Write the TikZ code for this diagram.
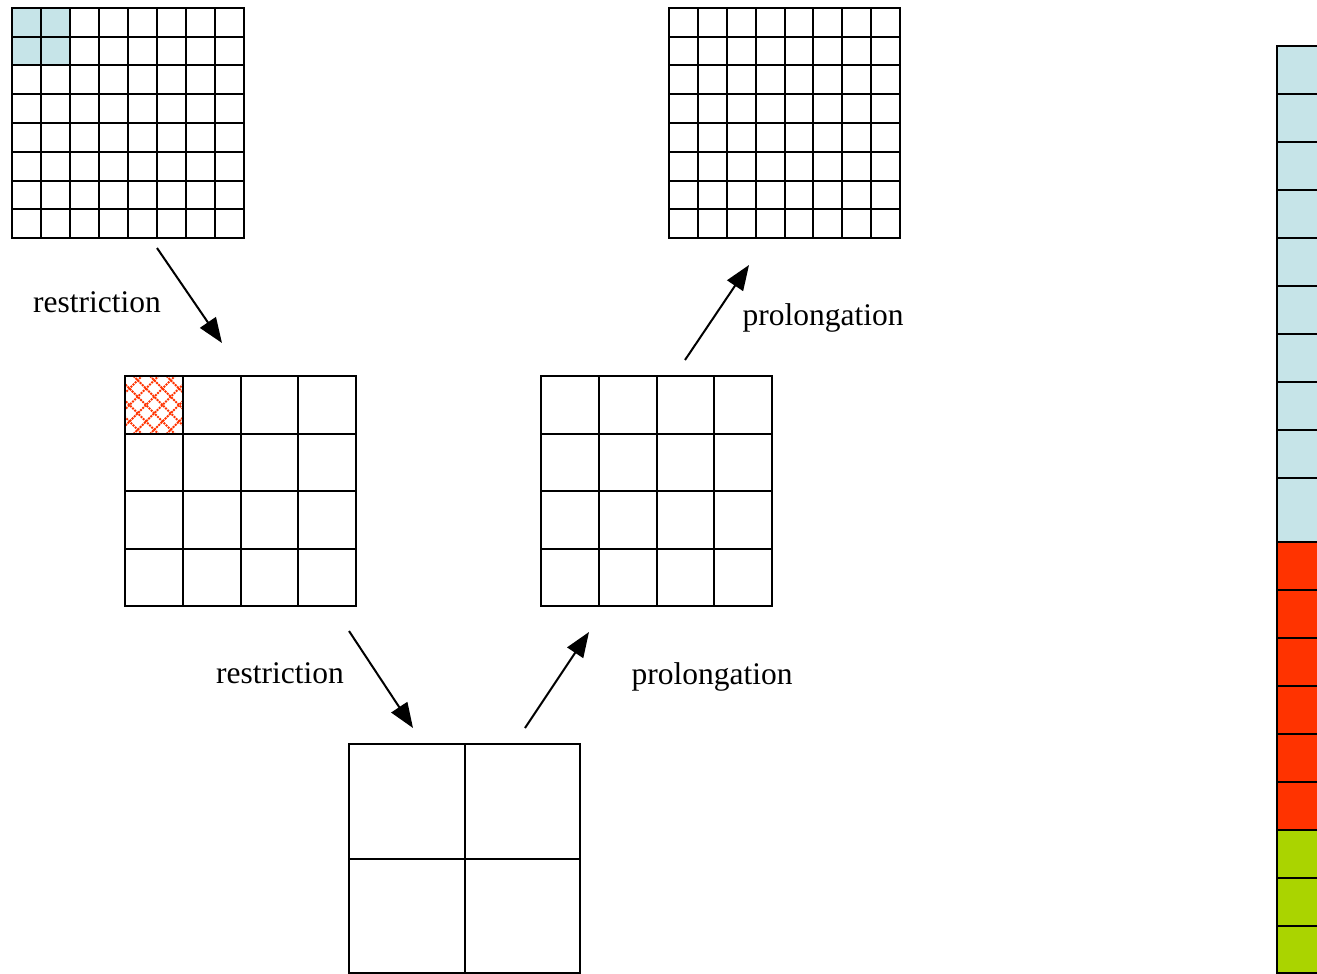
\documentclass[tikz,border=0pt]{standalone}
\usepackage{fontspec}
\setmainfont{Liberation Serif}
\usetikzlibrary{arrows.meta}
\definecolor{lblue}{HTML}{C6E4E8}
\definecolor{lred}{HTML}{FF3300}
\definecolor{lgreen}{HTML}{AAD400}
\newcommand\mgrid[5]{% x0 y0 x1 y1 n
  \foreach \k in {0,...,#5}{
    \draw[gridline] ({#1+(#3-#1)*\k/#5},#2) -- ({#1+(#3-#1)*\k/#5},#4);
    \draw[gridline] (#1,{#2+(#4-#2)*\k/#5}) -- (#3,{#2+(#4-#2)*\k/#5});
  }}
\begin{document}
\begin{tikzpicture}[x=1pt,y=-1pt,
  gridline/.style={line width=2pt,black,line cap=rect},
  arr/.style={line width=2pt,-{Triangle[length=25pt,width=19pt]}},
  lbl/.style={font=\fontsize{31.5}{38}\selectfont,inner sep=0pt}]
\useasboundingbox (0,0) rectangle (1317,974);
\fill[white] (0,0) rectangle (1317,974);
% blue cells in top-left grid
\fill[lblue] (12,8) rectangle (70,65.5);
% red hatched cell
\begin{scope}
\clip (125,376) rectangle (183,434);
\foreach \d in {-74,-57.5,...,80}{
  \draw[lred,line width=2pt,densely dotted] ({125+\d},376) -- ({125+\d+58},434);
  \draw[lred,line width=2pt,densely dotted] ({125+\d},434) -- ({125+\d+58},376);
}
\end{scope}
% grids
\mgrid{12}{8}{244}{238}{8}
\mgrid{669}{8}{900}{238}{8}
\mgrid{125}{376}{356}{606}{4}
\mgrid{541}{376}{772}{606}{4}
\mgrid{349}{744}{580}{973}{2}
% right column
\begin{scope}
\clip (0,0) rectangle (1317,974);
\fill[lblue] (1277,46) rectangle (1330,542);
\fill[lred] (1277,542) rectangle (1330,830);
\fill[lgreen] (1277,830) rectangle (1330,974);
\draw[gridline] (1277,46) -- (1277,976);
\foreach \yy in {46,94,142,190,238,286,334,382,430,478,542,590,638,686,734,782,830,878,926,973}
  \draw[gridline] (1277,\yy) -- (1330,\yy);
\end{scope}
% arrows
\coordinate (r1s) at (157,248); \coordinate (r1e) at (222,343);
\coordinate (r2s) at (349,631); \coordinate (r2e) at (413,728);
\coordinate (p1s) at (525,728); \coordinate (p1e) at (589,632);
\coordinate (p2s) at (685,360); \coordinate (p2e) at (749,265);
\draw[arr] (r1s) -- (r1e);
\draw[arr] (r2s) -- (r2e);
\draw[arr] (p1s) -- (p1e);
\draw[arr] (p2s) -- (p2e);
\node[lbl] (l1) at (97,302) {restriction};
\node[lbl] (l2) at (280,673) {restriction};
\node[lbl] (l3) at (712,677) {prolongation};
\node[lbl] (l4) at (823,318) {prolongation};
\end{tikzpicture}
\end{document}
